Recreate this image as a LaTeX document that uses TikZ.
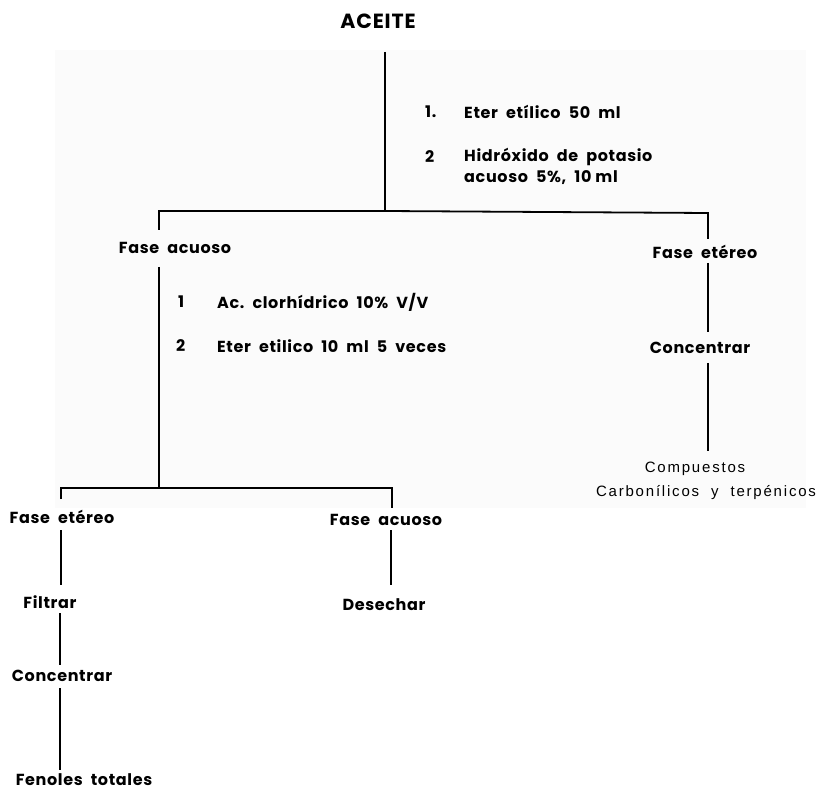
\documentclass[tikz,border=0pt]{standalone}
\usepackage{fontspec}
\setmainfont{Poppins}
\newfontfamily\lbl[LetterSpace=4]{Poppins}
\newfontfamily\cmp[LetterSpace=12]{Liberation Sans}
\begin{document}
\begin{tikzpicture}[x=1pt,y=-1pt,
  lab/.style={inner sep=0pt, font=\lbl\bfseries\fontsize{16}{19}\selectfont},
  labw/.style={lab, anchor=west},
  title/.style={inner sep=0pt, font=\lbl\bfseries\fontsize{20.5}{24}\selectfont},
  cmpd/.style={inner sep=0pt, font=\cmp\fontsize{15}{18}\selectfont},
  link/.style={line width=1.8pt, line cap=butt},
]
\useasboundingbox (0,0) rectangle (819,791);
\fill[black!1.5] (55,50) rectangle (806,508);

% texts
\node[title] (aceite) at (378,21) {ACEITE};
\node[labw] (n1) at (425,112) {1.};
\node[labw] (t1) at (464,112) {Eter\ \ etílico\ \ 50\ \ ml};
\node[labw] (n2) at (425,157) {2};
\node[labw] (t2a) at (464,157) {Hidróxido\ \ de\ \ potasio};
\node[labw] (t2b) at (464,178) {acuoso\ \ 5\%,\ \ 10 ml};
\node[lab] (faL) at (175,248) {Fase\ \ acuoso};
\node[lab] (feR) at (705,252) {Fase\ \ etéreo};
\node[labw] (n3) at (178,302) {1};
\node[labw] (t3) at (217,302) {Ac.\ \ clorhídrico\ \ 10\%\ \ V/V};
\node[labw] (n4) at (176,346) {2};
\node[labw] (t4) at (217,346) {Eter\ \ etilico\ \ 10\ \ ml\ \ 5\ \ veces};
\node[lab] (conR) at (700,348) {Concentrar};
\node[cmpd] (comp) at (695,469) {Compuestos};
\node[cmpd] (carb) at (706,493) {Carbonílicos\ \ y\ \ terpénicos};
\node[lab] (feL) at (62,517) {Fase\ \ etéreo};
\node[lab] (faL2) at (386,520) {Fase\ \ acuoso};
\node[lab] (fil) at (50,602) {Filtrar};
\node[lab] (des) at (384,605) {Desechar};
\node[lab] (conL) at (62,676) {Concentrar};
\node[lab] (fen) at (84,780) {Fenoles\ \ totales};

% junction coordinates
\coordinate (top) at (385,52);
\coordinate (j1) at (385,211);
\coordinate (b1l) at (159,211);
\coordinate (b1r) at (708,213);
\coordinate (e1l) at (159,230);
\coordinate (e1r) at (708,239);
\coordinate (s2) at (159,267);
\coordinate (j2) at (159,488);
\coordinate (b2l) at (61,488);
\coordinate (b2r) at (392,488);
\coordinate (e2l) at (61,499);
\coordinate (e2r) at (392,508);
\coordinate (r1a) at (708,263);
\coordinate (r1b) at (708,332);
\coordinate (r2a) at (708,363);
\coordinate (r2b) at (708,451);
\coordinate (l1a) at (61,530);
\coordinate (l1b) at (61,585);
\coordinate (l2a) at (60,613);
\coordinate (l2b) at (60,665);
\coordinate (l3a) at (60,688);
\coordinate (l3b) at (60,770);
\coordinate (m1a) at (391,530);
\coordinate (m1b) at (391,585);

% connectors
\draw[link] (top) -- (j1);
\draw[link] (e1l) -- (b1l) -- (j1) -- (b1r) -- (e1r);
\draw[link] (s2) -- (j2);
\draw[link] (e2l) -- (b2l) -- (j2) -- (b2r) -- (e2r);
\draw[link] (r1a) -- (r1b);
\draw[link] (r2a) -- (r2b);
\draw[link] (l1a) -- (l1b);
\draw[link] (l2a) -- (l2b);
\draw[link] (l3a) -- (l3b);
\draw[link] (m1a) -- (m1b);
\end{tikzpicture}
\end{document}
